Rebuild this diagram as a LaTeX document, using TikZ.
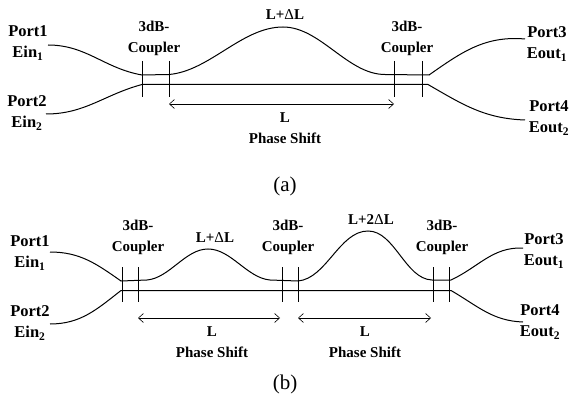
\documentclass[tikz,border=0pt]{standalone}
\usepackage{fontspec}
\setmainfont{Liberation Serif}
\usetikzlibrary{arrows.meta}
\tikzset{
  guide/.style = {line width=1pt},
  tick/.style = {line width=0.6pt},
  span/.style = {line width=0.6pt, {Straight Barb[length=5pt,width=9pt]}-{Straight Barb[length=5pt,width=9pt]}},
  lbl/.style = {font=\bfseries\fontsize{15}{21}\selectfont, align=center, inner sep=0pt},
  portlbl/.style = {font=\bfseries\fontsize{16.5}{21.5}\selectfont, align=center, inner sep=0pt},
  figcap/.style = {font=\fontsize{21}{24}\selectfont, inner sep=0pt}
}
\begin{document}
\begin{tikzpicture}[x=1pt, y=-1pt]
\useasboundingbox (0,0) rectangle (571,396);
% (a) coupler ends
\coordinate (aT1) at (142,75);
\coordinate (aT2) at (169,74.5);
\coordinate (aT3) at (385,74.5);
\coordinate (aT4) at (429,75);
\coordinate (aB1) at (142,84.5);
\coordinate (aB2) at (428,84.5);
\coordinate (aPeak) at (283,27);
\coordinate (aIn1) at (48,45);
\coordinate (aIn2) at (46,114);
\coordinate (aOut1) at (525,39);
\coordinate (aOut2) at (525,120);
% (a) waveguides
\draw[guide] (aIn1) to[out=0,in=170] (aT1) -- (aT2) to[out=5,in=180,looseness=0.85] (aPeak)
  to[out=0,in=180,looseness=0.85] (aT3) -- (aT4) to[out=35,in=175] (aOut1);
\draw[guide] (aIn2) to[out=0,in=195] (aB1) -- (aB2) to[out=-30,in=178] (aOut2);
% (a) coupler ticks
\foreach \name/\xpos in {aA/142,aB/169,aC/394,aD/422}{
  \coordinate (\name top) at (\xpos,61);
  \coordinate (\name bot) at (\xpos,97);
  \draw[tick] (\name top) -- (\name bot);
}
% (a) length arrow
\coordinate (aL) at (169,104);
\coordinate (aR) at (394,104);
\draw[span] (aL) -- (aR);
% (a) labels
\node[portlbl] (aP1) at (28,43) {Port1\\Ein\textsubscript{1}};
\node[portlbl] (aP2) at (27,113) {Port2\\Ein\textsubscript{2}};
\node[portlbl] (aP3) at (547,44) {Port3\\Eout\textsubscript{1}};
\node[portlbl] (aP4) at (549,118) {Port4\\Eout\textsubscript{2}};
\node[lbl] (aC1) at (154,38) {3dB-\\Coupler};
\node[lbl] (aC2) at (407,38) {3dB-\\Coupler};
\node[lbl] (aTop) at (285,15) {L+{\normalfont Δ}L};
\node[lbl] (aPh) at (285,128) {L\\Phase Shift};
\node[figcap] (aCap) at (285,186) {(a)};
% (b) coupler ends
\coordinate (bT1) at (121,281);
\coordinate (bT2) at (147,280);
\coordinate (bT3) at (270,280);
\coordinate (bT4) at (298,281);
\coordinate (bT5) at (432,280);
\coordinate (bT6) at (451,280);
\coordinate (bB1) at (121,290.5);
\coordinate (bB2) at (451,290.5);
\coordinate (bPeak1) at (208,249);
\coordinate (bPeak2) at (368,231);
\coordinate (bIn1) at (50,252);
\coordinate (bIn2) at (50,324);
\coordinate (bOut1) at (523,248);
\coordinate (bOut2) at (523,322);
% (b) waveguides
\draw[guide] (bIn1) to[out=0,in=145] (bT1) -- (bT2) to[out=5,in=180,looseness=0.85] (bPeak1)
  to[out=0,in=175,looseness=0.85] (bT3) -- (bT4) to[out=5,in=180,looseness=0.85] (bPeak2)
  to[out=0,in=178,looseness=0.85] (bT5) -- (bT6) to[out=25,in=178] (bOut1);
\draw[guide] (bIn2) to[out=0,in=218] (bB1) -- (bB2) to[out=-30,in=178] (bOut2);
% (b) coupler ticks
\foreach \name/\xpos in {bA/122,bB/138,bC/282,bD/298,bE/433,bF/449}{
  \coordinate (\name top) at (\xpos,267);
  \coordinate (\name bot) at (\xpos,302);
  \draw[tick] (\name top) -- (\name bot);
}
% (b) length arrows
\coordinate (bL1) at (138,318);
\coordinate (bR1) at (280,318);
\coordinate (bL2) at (298,318);
\coordinate (bR2) at (431,318);
\draw[span] (bL1) -- (bR1);
\draw[span] (bL2) -- (bR2);
% (b) labels
\node[portlbl] (bP1) at (30,253) {Port1\\Ein\textsubscript{1}};
\node[portlbl] (bP2) at (30,323) {Port2\\Ein\textsubscript{2}};
\node[portlbl] (bP3) at (544,251) {Port3\\Eout\textsubscript{1}};
\node[portlbl] (bP4) at (540,322) {Port4\\Eout\textsubscript{2}};
\node[lbl] (bC1) at (138,237) {3dB-\\Coupler};
\node[lbl] (bC2) at (288,237) {3dB-\\Coupler};
\node[lbl] (bC3) at (442,237) {3dB-\\Coupler};
\node[lbl] (bTop1) at (215,238) {L+{\normalfont Δ}L};
\node[lbl] (bTop2) at (371,220) {L+2{\normalfont Δ}L};
\node[lbl] (bPh1) at (212,342) {L\\Phase Shift};
\node[lbl] (bPh2) at (365,342) {L\\Phase Shift};
\node[figcap] (bCap) at (285,384) {(b)};
\end{tikzpicture}
\end{document}
